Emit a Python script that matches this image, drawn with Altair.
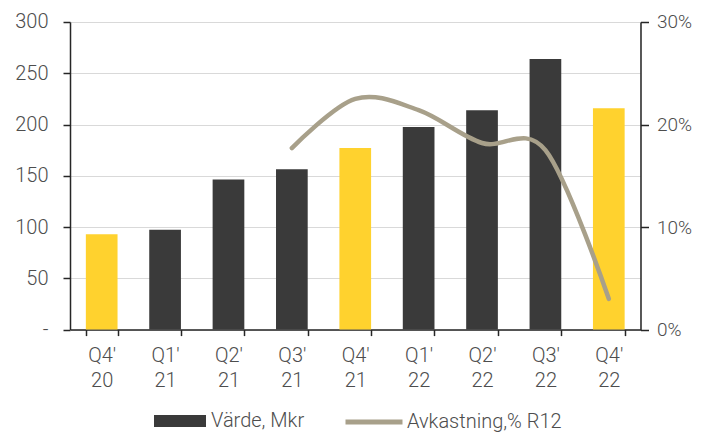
import altair as alt
import pandas as pd

quarters = ["Q4' 20", "Q1' 21", "Q2' 21", "Q3' 21", "Q4' 21", "Q1' 22", "Q2' 22", "Q3' 22", "Q4' 22"]
varde = [93, 97.5, 146.5, 156.5, 177, 197.5, 214, 264, 216]
avkastning = [None, None, None, 0.177, 0.225, 0.214, 0.182, 0.175, 0.030]

bar_series = "Värde, Mkr"
line_series = "Avkastning,% R12"

df = pd.DataFrame({"q": quarters, "val": varde, "ret": avkastning,
                   "s1": bar_series, "s2": line_series})

FONT = "Roboto"
LABEL = "#4d4d4d"
AXIS = "#262626"
FS = 20

x = alt.X("q:N", sort=quarters, title=None,
          scale=alt.Scale(paddingInner=0.5, paddingOuter=0.25),
          axis=alt.Axis(labelAngle=0, tickBand="extent", tickSize=6, tickColor=AXIS,
                        domainColor=AXIS, domainWidth=1.5, tickWidth=1.5,
                        labelExpr="split(datum.label, ' ')", labelPadding=10,
                        labelLineHeight=25, labelFontSize=FS, labelColor=LABEL,
                        labelFont=FONT, labelFontWeight=300, grid=False))

bars = alt.Chart(df).mark_bar().encode(
    x=x,
    y=alt.Y("val:Q", title=None, scale=alt.Scale(domain=[0, 300]),
            axis=alt.Axis(values=[0, 50, 100, 150, 200, 250, 300], grid=True,
                          gridColor="#d9d9d9", gridWidth=1.2,
                          labelExpr="datum.value == 0 ? '-' : datum.label",
                          tickSize=7, tickColor=AXIS, tickWidth=1.5,
                          domainColor=AXIS, domainWidth=1.5, labelPadding=15,
                          labelFontSize=FS, labelColor=LABEL, labelFont=FONT,
                          labelFontWeight=300)),
    fill=alt.condition("indexof(datum.q, 'Q4') == 0", alt.value("#FFD22E"),
                       alt.Fill("s1:N", scale=alt.Scale(domain=[bar_series], range=["#3a3a3a"]),
                                legend=alt.Legend(title=None, orient="none", legendX=84, legendY=373,
                                                  symbolType="M-1,-0.23L1,-0.23L1,0.23L-1,0.23Z",
                                                  symbolSize=2704, symbolStrokeWidth=0,
                                                  labelFontSize=FS, labelColor=LABEL, labelFont=FONT,
                                                  labelFontWeight=300, labelOffset=5, padding=0))),
)

line = alt.Chart(df).transform_filter("isValid(datum.ret)").mark_line(
    interpolate="cardinal", tension=0, strokeWidth=4.5, strokeCap="round"
).encode(
    x=x,
    y=alt.Y("ret:Q", title=None, scale=alt.Scale(domain=[0, 0.3]),
            axis=alt.Axis(orient="right", values=[0, 0.1, 0.2, 0.3], format=".0%", grid=False,
                          tickSize=8, tickColor=AXIS, tickWidth=1.5,
                          domainColor=AXIS, domainWidth=1.5, labelPadding=8,
                          labelFontSize=19, labelColor=LABEL, labelFont=FONT,
                          labelFontWeight=300)),
    stroke=alt.Stroke("s2:N", scale=alt.Scale(domain=[line_series], range=["#A8A08A"]),
                      legend=alt.Legend(title=None, orient="none", legendX=273, legendY=369,
                                        symbolType="stroke", symbolSize=3249,
                                        symbolStrokeWidth=5,
                                        labelFontSize=FS, labelColor=LABEL, labelFont=FONT,
                                        labelFontWeight=300, labelOffset=2, padding=0)),
)

chart = alt.layer(bars, line).resolve_scale(y="independent").properties(
    width=570.5, height=307.6,
    autosize=alt.AutoSizeParams(type="none"),
    padding={"left": 62, "top": 14, "right": 53, "bottom": 102},
).configure_view(stroke=None).configure(background="white")

chart.save("out.html", embed_options={"renderer": "svg", "actions": False})
